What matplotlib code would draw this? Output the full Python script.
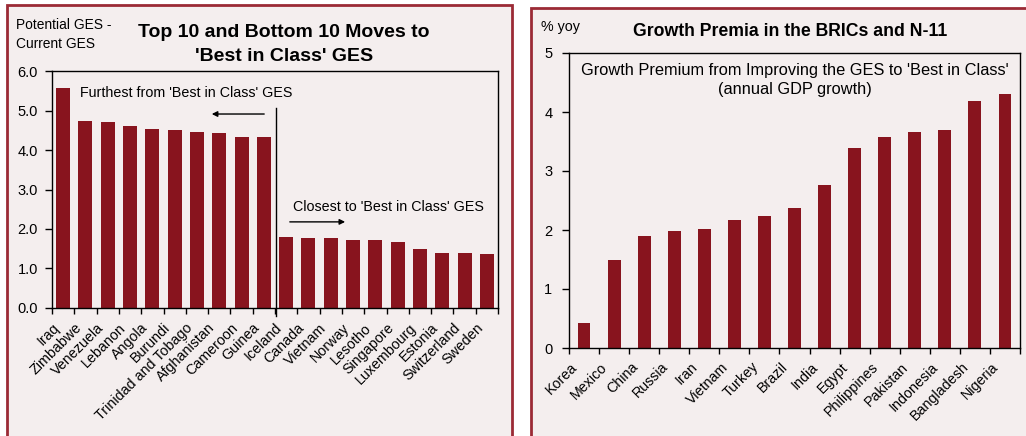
import matplotlib
matplotlib.use('Agg')
import matplotlib.pyplot as plt
from matplotlib.patches import Rectangle
from matplotlib.ticker import FixedLocator, NullLocator

plt.rcParams['font.family'] = ['Liberation Sans', 'DejaVu Sans']

## data for the left chart: GES gap to 'best in class'
gesCountries = ['Iraq', 'Zimbabwe', 'Venezuela', 'Lebanon', 'Angola', 'Burundi',
                'Trinidad and Tobago', 'Afghanistan', 'Cameroon', 'Guinea',
                'Iceland', 'Canada', 'Vietnam', 'Norway', 'Lesotho', 'Singapore',
                'Luxembourg', 'Estonia', 'Switzerland', 'Sweden']
gesGap = [5.58, 4.74, 4.71, 4.61, 4.54, 4.51, 4.46, 4.43, 4.33, 4.33,
          1.80, 1.77, 1.77, 1.72, 1.72, 1.67, 1.49, 1.39, 1.39, 1.36]

## data for the right chart: growth premium in % yoy
bricCountries = ['Korea', 'Mexico', 'China', 'Russia', 'Iran', 'Vietnam', 'Turkey',
                 'Brazil', 'India', 'Egypt', 'Philippines', 'Pakistan', 'Indonesia',
                 'Bangladesh', 'Nigeria']
growthPremium = [0.43, 1.49, 1.90, 1.98, 2.02, 2.17, 2.24, 2.37, 2.76, 3.39,
                 3.58, 3.66, 3.69, 4.19, 4.31]

barColor = '#88141E'
panelColor = '#F4EEEE'
borderColor = '#9B2A35'
W, H = 1026, 436

fig = plt.figure(figsize=(W / 100, H / 100), dpi=100)
fig.patch.set_facecolor('white')

def px(x0, y0, x1, y1):
    # pixel box (top-left origin) -> figure fraction rect
    return [x0 / W, 1 - y1 / H, (x1 - x0) / W, (y1 - y0) / H]

## panel backgrounds with dark red borders
for box in [(6.5, 5.5, 511.5, 445), (531, 8, 1032, 445)]:
    r = px(*box)
    fig.add_artist(Rectangle((r[0], r[1]), r[2], r[3], transform=fig.transFigure,
                             facecolor=panelColor, edgecolor=borderColor,
                             linewidth=2.0, zorder=0))

def style_axes(ax, n, pad):
    ax.set_facecolor(panelColor)
    for s in ax.spines.values():
        s.set_color('black')
        s.set_linewidth(1.0)
    ax.set_xlim(-0.5, n - 0.5)
    ax.xaxis.set_major_locator(NullLocator())
    ax.xaxis.set_minor_locator(FixedLocator([i - 0.5 for i in range(n + 1)]))
    ax.tick_params(axis='x', which='minor', length=4, direction='out', width=1)
    ax.tick_params(axis='y', length=5, direction='out', width=1, labelsize=10.5, pad=pad)

## left chart
ax1 = fig.add_axes(px(52, 71.5, 498, 307.7))
style_axes(ax1, len(gesCountries), 5)
ax1.bar(range(len(gesCountries)), gesGap, width=0.63, color=barColor, zorder=2)
ax1.set_ylim(0, 6)
ax1.set_yticks([0, 1, 2, 3, 4, 5, 6])
ax1.set_yticklabels(['%.1f' % v for v in range(7)])
for i, name in enumerate(gesCountries):
    ax1.text(i - 0.5, -0.33, name, rotation=45, ha='right', va='top',
             rotation_mode='anchor', fontsize=10.3)

# divider between the two groups, and the direction arrows
ax1.plot([9.55, 9.55], [5.07, -0.2], color='black', linewidth=1, clip_on=False, zorder=3)
ax1.annotate('', xy=(6.54, 4.92), xytext=(9.14, 4.92),
             arrowprops=dict(arrowstyle='-|>', color='black', lw=1, mutation_scale=8))
ax1.annotate('', xy=(12.77, 2.18), xytext=(10.04, 2.18),
             arrowprops=dict(arrowstyle='-|>', color='black', lw=1, mutation_scale=8))
ax1.text(0.76, 5.45, "Furthest from 'Best in Class' GES", fontsize=10.3, va='center')
ax1.text(10.3, 2.56, "Closest to 'Best in Class' GES", fontsize=10.3, va='center')

fig.text(16 / W, 1 - 34.5 / H, 'Potential GES -\nCurrent GES', fontsize=9.9,
         va='center', ha='left', linespacing=1.5)
fig.text(284 / W, 1 - 44.5 / H, "Top 10 and Bottom 10 Moves to\n'Best in Class' GES",
         fontsize=14, fontweight='bold', ha='center', va='center', linespacing=1.6)

## right chart
ax2 = fig.add_axes(px(569, 53, 1020, 348))
style_axes(ax2, len(bricCountries), 7)
ax2.bar(range(len(bricCountries)), growthPremium, width=0.43, color=barColor, zorder=2)
ax2.set_ylim(0, 5)
ax2.set_yticks([0, 1, 2, 3, 4, 5])
for i, name in enumerate(bricCountries):
    ax2.text(i - 0.45, -0.2, name, rotation=45, ha='right', va='top',
             rotation_mode='anchor', fontsize=10.3)
ax2.text(0.5, 0.908, "Growth Premium from Improving the GES to 'Best in Class'\n(annual GDP growth)",
         transform=ax2.transAxes, ha='center', va='center', fontsize=11.8, linespacing=1.28)

fig.text(541 / W, 1 - 27 / H, '% yoy', fontsize=10.3, va='center', ha='left')
fig.text(790 / W, 1 - 32 / H, 'Growth Premia in the BRICs and N-11',
         fontsize=12.7, fontweight='bold', ha='center', va='center')

fig.savefig('out.png', dpi=100, facecolor='white')
